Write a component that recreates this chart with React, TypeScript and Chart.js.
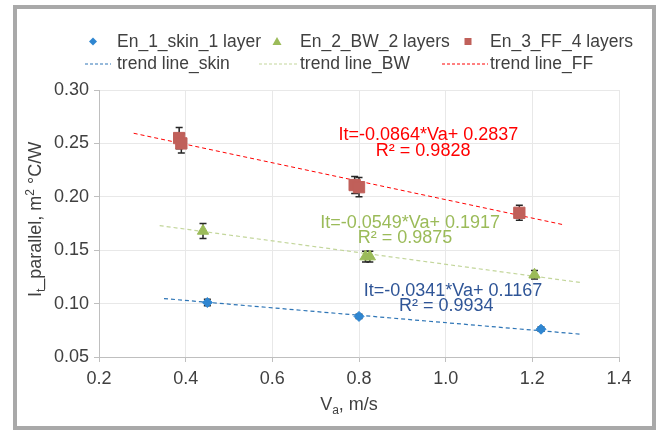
import React, { useEffect, useRef } from "react";
import { Chart, registerables } from "chart.js";

Chart.register(...registerables);

const FONT = "'Liberation Sans', Arial, sans-serif";
const TEXT = "#404040";

// ---- data ----
const skinVa = [0.45, 0.8, 1.22];
const skinIt = [0.101, 0.088, 0.076];
const skinErr = [0.003, 0.002, 0.002];

const bwVa = [0.44, 0.815, 0.825, 1.205];
const bwIt = [0.168, 0.144, 0.144, 0.127];
const bwErr = [0.007, 0.005, 0.005, 0.004];

const ffVa = [0.385, 0.39, 0.79, 0.8, 1.17];
const ffIt = [0.255, 0.25, 0.211, 0.209, 0.185];
const ffErr = [0.01, 0.009, 0.008, 0.009, 0.007];

const trendSkinVa = [0.35, 1.31];
const trendSkinIt = [0.1047, 0.0714];
const trendBwVa = [0.34, 1.31];
const trendBwIt = [0.1730, 0.1198];
const trendFfVa = [0.28, 1.27];
const trendFfIt = [0.2595, 0.1740];

const xMin = 0.2, xMax = 1.4, xStep = 0.2;
const yMin = 0.05, yMax = 0.3, yStep = 0.05;

const legendSeries = ["En_1_skin_1 layer", "En_2_BW_2 layers", "En_3_FF_4 layers"];
const legendTrends = ["trend line_skin", "trend line_BW", "trend line_FF"];

const equations = [
  { eq: "It=-0.0864*Va+ 0.2837", r2: "R\u00b2 = 0.9828", color: "#ff0000", ex: 0.960, ey: 0.2531, rx: 0.948, ry: 0.2384 },
  { eq: "It=-0.0549*Va+ 0.1917", r2: "R\u00b2 = 0.9875", color: "#9bbb59", ex: 0.918, ey: 0.1704, rx: 0.906, ry: 0.1569 },
  { eq: "It=-0.0341*Va+ 0.1167", r2: "R\u00b2 = 0.9934", color: "#2f5597", ex: 1.017, ey: 0.1069, rx: 1.0015, ry: 0.0928 },
];

const pts = (xs: number[], ys: number[]) => xs.map((x, i) => ({ x, y: ys[i] }));

type Part = { t: string; k?: "sub" | "sup" };

function drawRich(ctx: CanvasRenderingContext2D, parts: Part[], cx: number, baseline: number, size: number) {
  const small = Math.round(size * 0.66);
  const fontFor = (p: Part) => `${p.k ? small : size}px ${FONT}`;
  let total = 0;
  const widths = parts.map((p) => {
    ctx.font = fontFor(p);
    const w = ctx.measureText(p.t).width;
    total += w;
    return w;
  });
  let x = cx - total / 2;
  ctx.textAlign = "left";
  ctx.textBaseline = "alphabetic";
  parts.forEach((p, i) => {
    ctx.font = fontFor(p);
    const dy = p.k === "sub" ? size * 0.22 : p.k === "sup" ? -size * 0.38 : 0;
    ctx.fillText(p.t, x, baseline + dy);
    x += widths[i];
  });
}

const errorBarPlugin = {
  id: "errorBars",
  beforeDatasetsDraw(chart: any) {
    const { ctx } = chart;
    const xs = chart.scales.x;
    const ys = chart.scales.y;
    chart.data.datasets.forEach((ds: any) => {
      if (!ds.errors) return;
      ds.data.forEach((p: any, j: number) => {
        const e = ds.errors[j];
        const px = xs.getPixelForValue(p.x);
        const top = ys.getPixelForValue(p.y + e);
        const bot = ys.getPixelForValue(p.y - e);
        ctx.save();
        ctx.strokeStyle = "#262626";
        ctx.lineWidth = 1.5;
        ctx.beginPath();
        ctx.moveTo(px, top);
        ctx.lineTo(px, bot);
        ctx.moveTo(px - 3.5, top);
        ctx.lineTo(px + 3.5, top);
        ctx.moveTo(px - 3.5, bot);
        ctx.lineTo(px + 3.5, bot);
        ctx.stroke();
        ctx.restore();
      });
    });
  },
};

const decorPlugin = {
  id: "decor",
  afterDraw(chart: any) {
    const { ctx, chartArea } = chart;
    const xs = chart.scales.x;
    const ys = chart.scales.y;
    ctx.save();
    // equations
    equations.forEach((q) => {
      ctx.fillStyle = q.color;
      ctx.font = `18px ${FONT}`;
      ctx.textAlign = "center";
      ctx.textBaseline = "alphabetic";
      ctx.fillText(q.eq, xs.getPixelForValue(q.ex), ys.getPixelForValue(q.ey));
      ctx.fillText(q.r2, xs.getPixelForValue(q.rx), ys.getPixelForValue(q.ry));
    });
    // axis titles
    ctx.fillStyle = TEXT;
    const cy = (chartArea.top + chartArea.bottom) / 2 - 4;
    ctx.save();
    ctx.translate(chartArea.left - 58, cy);
    ctx.rotate(-Math.PI / 2);
    drawRich(ctx, [{ t: "I" }, { t: "t", k: "sub" }, { t: "_parallel, m" }, { t: "2", k: "sup" }, { t: " \u00b0C/W" }], 0, 0, 18);
    ctx.restore();
    drawRich(ctx, [{ t: "V" }, { t: "a", k: "sub" }, { t: ", m/s" }], (chartArea.left + chartArea.right) / 2 - 10, chartArea.bottom + 53, 18);

    // legend
    const row1 = 47.3, row2 = 69.3;
    const textX = [117, 300, 490];
    const markerX = [93, 277, 468];
    const dash = [[85, 111, "#2e75b6"], [259, 297, "#c3d69b"], [442, 488, "#ff0000"]] as const;
    ctx.font = `17.5px ${FONT}`;
    ctx.textAlign = "left";
    ctx.textBaseline = "alphabetic";
    ctx.fillStyle = TEXT;
    legendSeries.forEach((t, i) => ctx.fillText(t, textX[i], row1));
    legendTrends.forEach((t, i) => ctx.fillText(t, textX[i], row2));
    const my = 41.5;
    // diamond
    ctx.fillStyle = "#2f86d1";
    ctx.beginPath();
    ctx.moveTo(markerX[0] - 4, my);
    ctx.lineTo(markerX[0], my - 4);
    ctx.lineTo(markerX[0] + 4, my);
    ctx.lineTo(markerX[0], my + 4);
    ctx.closePath();
    ctx.fill();
    // triangle
    ctx.fillStyle = "#9bbb59";
    ctx.beginPath();
    ctx.moveTo(markerX[1], my - 4.5);
    ctx.lineTo(markerX[1] + 4.5, my + 3.5);
    ctx.lineTo(markerX[1] - 4.5, my + 3.5);
    ctx.closePath();
    ctx.fill();
    // square
    ctx.fillStyle = "#c0605a";
    ctx.fillRect(markerX[2] - 3.5, my - 3.5, 7, 7);
    // dashes
    dash.forEach(([a, b, c]) => {
      ctx.strokeStyle = c;
      ctx.lineWidth = 1;
      ctx.setLineDash([3, 2]);
      ctx.beginPath();
      ctx.moveTo(a, 64);
      ctx.lineTo(b, 64);
      ctx.stroke();
    });
    ctx.restore();
  },
};

export default function App() {
  const ref = useRef<HTMLCanvasElement | null>(null);

  useEffect(() => {
    if (!ref.current) return;
    const chart = new Chart(ref.current, {
      type: "scatter",
      data: {
        datasets: [
          {
            label: legendSeries[0],
            data: pts(skinVa, skinIt),
            errors: skinErr,
            pointStyle: "rectRot",
            pointRadius: 5,
            backgroundColor: "#2f86d1",
            borderColor: "#2f86d1",
            borderWidth: 1,
          } as any,
          {
            label: legendSeries[1],
            data: pts(bwVa, bwIt),
            errors: bwErr,
            pointStyle: "triangle",
            pointRadius: 6.5,
            backgroundColor: "#9bbb59",
            borderColor: "#9bbb59",
            borderWidth: 1,
          } as any,
          {
            label: legendSeries[2],
            data: pts(ffVa, ffIt),
            errors: ffErr,
            pointStyle: "rect",
            pointRadius: 8,
            backgroundColor: "#c0605a",
            borderColor: "#c0605a",
            borderWidth: 1,
          } as any,
          {
            label: legendTrends[0],
            data: pts(trendSkinVa, trendSkinIt),
            showLine: true,
            pointRadius: 0,
            borderColor: "#2e75b6",
            borderWidth: 1.2,
            borderDash: [4, 3],
          },
          {
            label: legendTrends[1],
            data: pts(trendBwVa, trendBwIt),
            showLine: true,
            pointRadius: 0,
            borderColor: "#c3d69b",
            borderWidth: 1.2,
            borderDash: [4, 3],
          },
          {
            label: legendTrends[2],
            data: pts(trendFfVa, trendFfIt),
            showLine: true,
            pointRadius: 0,
            borderColor: "#ff0000",
            borderWidth: 1,
            borderDash: [4, 3],
          },
        ],
      },
      options: {
        responsive: false,
        animation: false,
        devicePixelRatio: 1,
        layout: { padding: { left: 0, top: 90, right: 37, bottom: 0 } },
        plugins: {
          legend: { display: false },
          tooltip: { enabled: false },
          title: { display: false },
        },
        scales: {
          x: {
            type: "linear",
            min: xMin,
            max: xMax,
            afterFit: (s: any) => { s.height = 73; },
            ticks: {
              stepSize: xStep,
              padding: 6,
              color: TEXT,
              font: { family: FONT, size: 18 },
              callback: (v: any) => Number(v).toFixed(1),
            },
            grid: { color: "#e8e8e8", tickColor: "#bfbfbf", tickLength: 5 },
            border: { color: "#bfbfbf" },
          },
          y: {
            type: "linear",
            min: yMin,
            max: yMax,
            afterFit: (s: any) => { s.width = 99; },
            ticks: {
              stepSize: yStep,
              padding: 5,
              color: TEXT,
              font: { family: FONT, size: 18 },
              callback: (v: any) => Number(v).toFixed(2),
            },
            grid: { color: "#e8e8e8", tickColor: "#bfbfbf", tickLength: 5 },
            border: { color: "#bfbfbf" },
          },
        },
      } as any,
      plugins: [errorBarPlugin, decorPlugin],
    });
    return () => chart.destroy();
  }, []);

  return (
    <div style={{ position: "absolute", left: 0, top: 0, width: 656, height: 430, background: "#fff" }}>
      <canvas ref={ref} width={656} height={430} style={{ display: "block" }} />
      <div
        style={{
          position: "absolute",
          left: 13,
          top: 5,
          width: 643,
          height: 425,
          border: "4px solid #a9a9a9",
          boxSizing: "border-box",
          pointerEvents: "none",
        }}
      />
    </div>
  );
}
